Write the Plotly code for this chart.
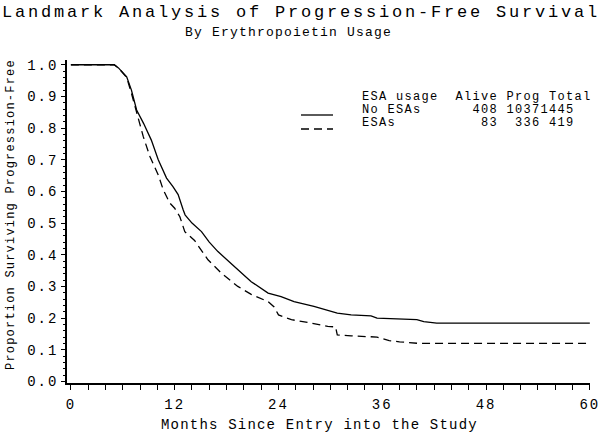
import plotly.graph_objects as go

# progression-free survival curves (months, proportion)
months_no_esa = [0, 5.0, 5.5, 6.45, 7.0, 7.6, 8.4, 9.3, 10.1, 11.06, 11.8, 12.4, 12.98, 13.2, 14.0,
                 15.1, 16.0, 17.0, 18.9, 20.85, 22.8, 24.3, 25.8, 28.1, 30.8, 32.4, 34.7, 35.4,
                 40.0, 40.8, 42.3, 60]
surv_no_esa = [1.0, 1.0, 0.99, 0.962, 0.92, 0.857, 0.815, 0.762, 0.70, 0.642, 0.615, 0.59, 0.542,
               0.526, 0.50, 0.473, 0.44, 0.41, 0.363, 0.315, 0.279, 0.268, 0.252, 0.237, 0.216,
               0.21, 0.207, 0.20, 0.195, 0.189, 0.184, 0.184]

months_esa = [0, 5.0, 5.5, 6.45, 7.0, 7.8, 8.37, 9.14, 10.1, 10.68, 11.44, 12.0, 12.6, 13.17, 14.3,
              15.85, 17.4, 19.3, 20.85, 22.8, 23.5, 24.0, 25.5, 27.8, 29.7, 30.6, 30.8, 32.4,
              35.4, 36.8, 38.0, 40.3, 60]
surv_esa = [1.0, 1.0, 0.99, 0.96, 0.91, 0.831, 0.773, 0.71, 0.652, 0.605, 0.563, 0.547, 0.52,
            0.473, 0.445, 0.384, 0.342, 0.30, 0.275, 0.252, 0.235, 0.21, 0.195, 0.184, 0.174,
            0.172, 0.147, 0.144, 0.14, 0.129, 0.125, 0.12, 0.12]

# legend table
groups = ['No ESAs', 'ESAs']
alive = [408, 83]
prog = [1037, 336]
total = [1445, 419]

x_ticks = [0, 12, 24, 36, 48, 60]
y_ticks = [0.0, 0.1, 0.2, 0.3, 0.4, 0.5, 0.6, 0.7, 0.8, 0.9, 1.0]

FONT = 'Liberation Mono'
W, H = 600, 441
L, R, T, B = 67, 10, 60, 58


def spaced(s, px):
    s = s.replace(' ', '\u00a0')
    return f'<span style="letter-spacing:{px}px">{s}</span>'


def px_x(p):
    return (p - L) / (W - L - R)


def px_y(p):
    return (H - B - p) / (H - T - B)


fig = go.Figure()
fig.add_trace(go.Scatter(x=months_no_esa, y=surv_no_esa, mode='lines',
                         line=dict(color='black', width=1.3), showlegend=False))
fig.add_trace(go.Scatter(x=months_esa, y=surv_esa, mode='lines',
                         line=dict(color='black', width=1.3, dash='8px,5px'), showlegend=False))

fig.update_layout(
    width=W, height=H,
    margin=dict(l=L, r=R, t=T, b=B, autoexpand=False),
    paper_bgcolor='white', plot_bgcolor='white',
    font=dict(family=FONT, color='black', size=14),
)
fig.update_xaxes(range=[-0.45, 60.02], showgrid=False, zeroline=False, automargin=False,
                 showline=True, linecolor='black', linewidth=1.5,
                 tickmode='array', tickvals=x_ticks, ticktext=[spaced(str(v), 2) for v in x_ticks],
                 ticks='outside', ticklen=5, tickwidth=1.2, tickcolor='black',
                 ticklabelstandoff=2, ticklabeloverflow='allow',
                 minor=dict(dtick=2, tick0=0, ticks='outside', ticklen=5, tickwidth=1, tickcolor='black'))
fig.update_yaxes(range=[-0.005, 1.015], showgrid=False, zeroline=False, automargin=False,
                 showline=True, linecolor='black', linewidth=1.5,
                 tickmode='array', tickvals=y_ticks, ticktext=[spaced(f'{v:.1f}', 2) for v in y_ticks],
                 ticks='outside', ticklen=4, tickwidth=1.2, tickcolor='black',
                 minor=dict(dtick=0.02, tick0=0, ticks='outside', ticklen=2, tickwidth=1, tickcolor='black'))


def label(text, x, y, size, spacing, anchor='center', angle=0):
    fig.add_annotation(text=spaced(text, spacing), xref='paper', yref='paper',
                       x=px_x(x), y=px_y(y), xanchor=anchor, yanchor='middle',
                       showarrow=False, font=dict(size=size), textangle=angle)


label('Landmark Analysis of Progression-Free Survival', 301, 12, 17, 2.8)
label('By Erythropoietin Usage', 288, 33, 13, 1.2)
label('Months Since Entry into the Study', 319, 425, 14, 1.2)
label('Proportion Surviving Progression-Free', 11, 215, 12, 1.2, angle=-90)

# legend table
rows = [f"{'ESA usage':<11}{'Alive':>5}{'Prog':>5}{'Total':>6}"]
for g, a, p, t in zip(groups, alive, prog, total):
    rows.append(f"{g:<11}{a:>5}{p:>5}{t:>4}")
for i, row in enumerate(rows):
    label(row, 360, 97 + 13 * i, 12, 1.3, anchor='left')
for i, d in enumerate(['solid', '8px,5px']):
    fig.add_shape(type='line', xref='paper', yref='paper',
                  x0=px_x(301), x1=px_x(333), y0=px_y(115 + 14 * i), y1=px_y(115 + 14 * i),
                  line=dict(color='black', width=1.3, dash=d))

fig.write_html('out.html', config={'displayModeBar': False},
               post_script="document.body.style.margin='0';")
